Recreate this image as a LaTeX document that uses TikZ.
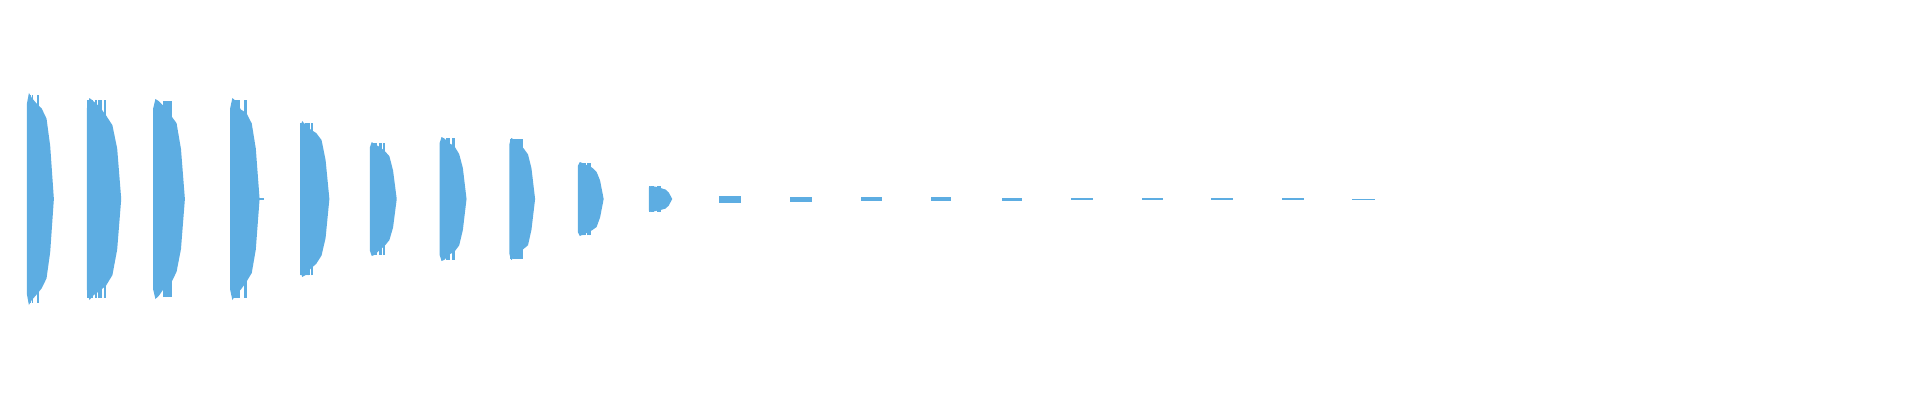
\documentclass[tikz,border=0pt]{standalone}
\usepackage{tikz}
\definecolor{wave}{HTML}{5DADE2}
% one burst: left edge x, width, half height
\newcommand{\wburst}[3]{%
  \fill[wave] (#1,0) -- (#1,{0.9*#3}) -- ({#1+0.08*#2},#3) -- ({#1+0.2*#2},{0.95*#3+0.03*#3*rnd}) -- ({#1+0.4*#2},{0.88*#3+0.04*#3*rnd})
    -- ({#1+0.6*#2},{0.82*#3+0.04*#3*rnd}) -- ({#1+0.8*#2},{0.72*#3+0.04*#3*rnd}) -- ({#1+0.95*#2},{0.5*#3})
    -- ({#1+#2+2},0) -- ({#1+0.95*#2},{-0.5*#3}) -- ({#1+0.8*#2},{-0.72*#3-0.04*#3*rnd})
    -- ({#1+0.6*#2},{-0.82*#3-0.04*#3*rnd}) -- ({#1+0.4*#2},{-0.88*#3-0.04*#3*rnd})
    -- ({#1+0.2*#2},{-0.95*#3-0.03*#3*rnd}) -- ({#1+0.08*#2},-#3) -- (#1,{-0.9*#3}) -- cycle;
  \foreach \k in {1,...,8}{
    \draw[wave, line width=0.5] ({#1+#2*rnd*0.6},{-0.98*#3}) -- ++(0,{1.96*#3});
  }}
\begin{document}
\begin{tikzpicture}[x=0.012245cm,y=0.01cm]
  \useasboundingbox (0,-201) rectangle (1568,199);
  \pgfmathsetseed{7}
  % large bursts
  \wburst{22}{20}{106}
  \wburst{71}{26}{101}
  \wburst{125}{24}{100}
  \wburst{188}{22}{101}
  \draw[wave, line width=0.5] (210,0) -- (216,0);
  \wburst{245}{22}{78}
  \wburst{302}{20}{57}
  \wburst{359}{20}{62}
  \wburst{416}{19}{61}
  \wburst{472}{19}{37}
  \wburst{530}{17}{13}
  % tiny bursts
  \foreach \x/\w/\h in {587/18/3.5, 645/18/2.5, 703/17/2.2, 760/17/2, 818/17/1.5,
                       875/18/1.3, 933/17/1, 989/18/0.8, 1047/18/0.6, 1104/19/0.5}{
    \fill[wave] (\x,-\h) rectangle ++(\w,2*\h);
  }
\end{tikzpicture}
\end{document}
